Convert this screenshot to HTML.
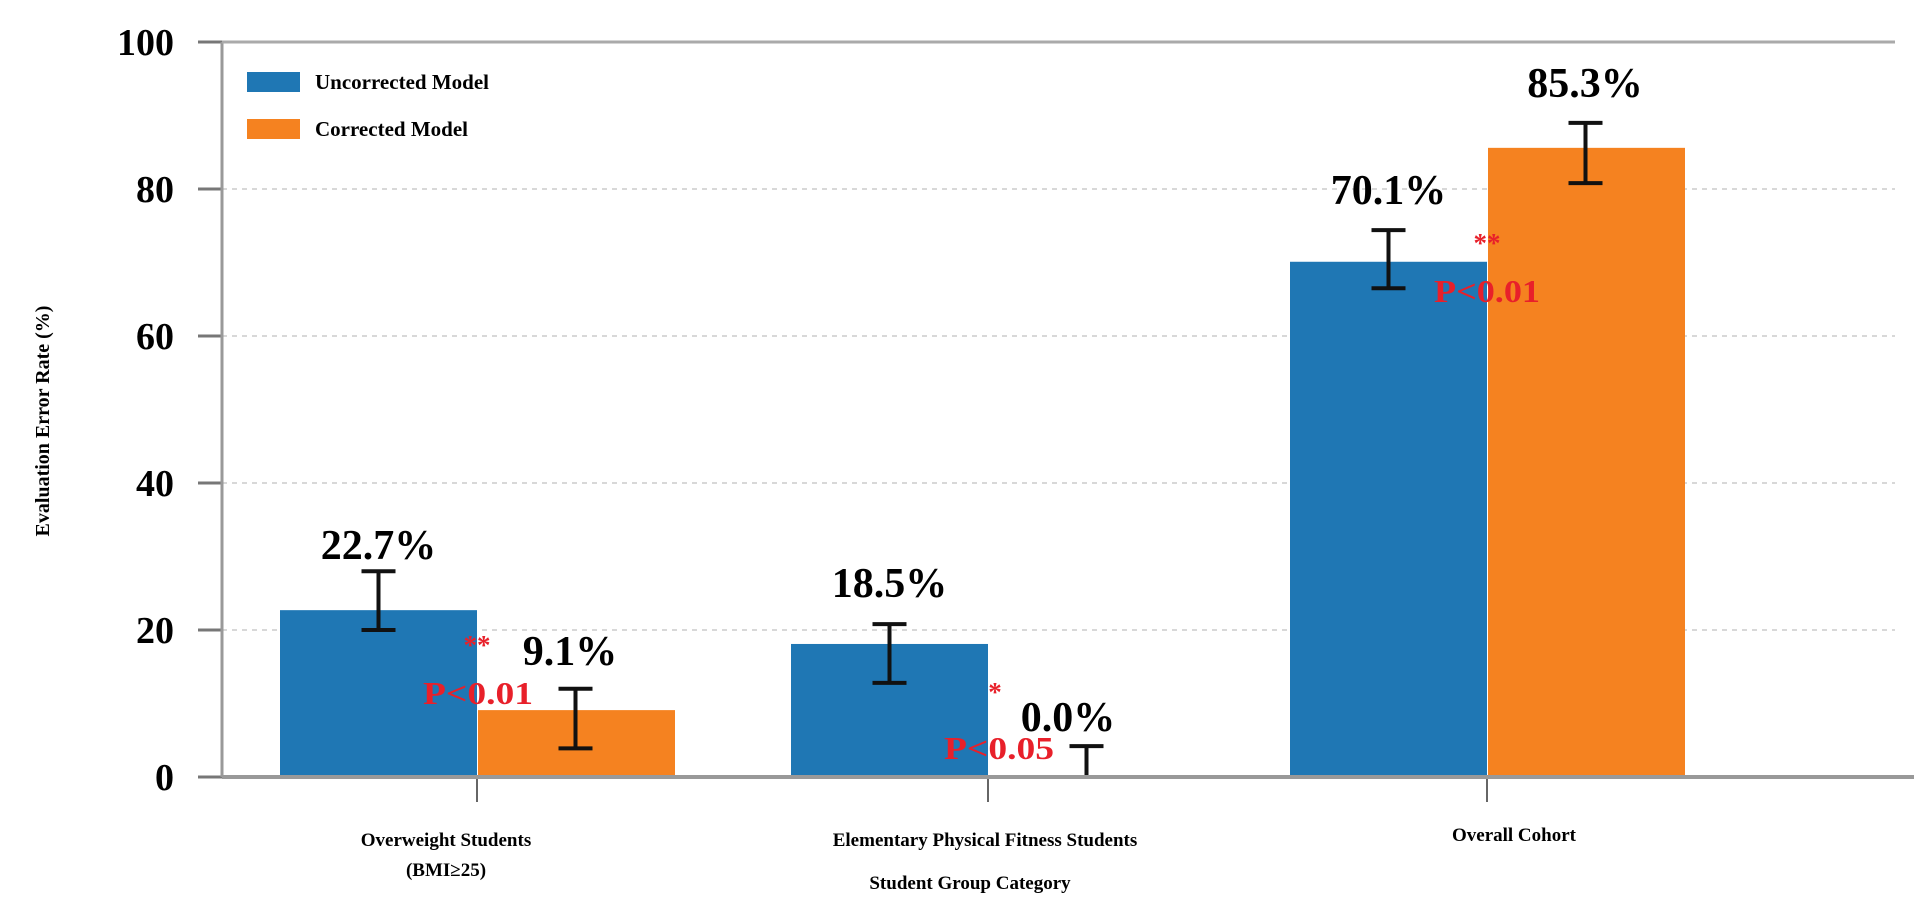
<!DOCTYPE html>
<html><head><meta charset="utf-8"><style>
html,body{margin:0;padding:0;background:#fff;}
svg{display:block;font-family:"Liberation Serif",serif;font-weight:bold;}
</style></head><body>
<svg id="chart" width="1914" height="910" viewBox="0 0 1914 910" xmlns="http://www.w3.org/2000/svg">
<g id="grid"></g><g id="bars"></g><g id="axes"></g><g id="labels"></g>
<g>
<rect x="247" y="72" width="53" height="20" fill="#1f77b4"/>
<text x="315" y="89" font-size="21">Uncorrected Model</text>
<rect x="247" y="119" width="53" height="20" fill="#f58220"/>
<text x="315" y="136" font-size="21">Corrected Model</text>
</g>
<text transform="translate(49,421) rotate(-90)" text-anchor="middle" font-size="20">Evaluation Error Rate (%)</text>
<text x="970" y="889" text-anchor="middle" font-size="19">Student Group Category</text>
</svg>
<script>
const categories = ["Overweight Students|(BMI≥25)", "Elementary Physical Fitness Students", "Overall Cohort"];
const uncorrected = [22.7, 18.1, 70.1];
const corrected = [9.1, 0.0, 85.6];
const uncLabels = ["22.7%", "18.5%", "70.1%"];
const corLabels = ["9.1%", "0.0%", "85.3%"];
const uncErrLow = [20.0, 12.8, 66.5];
const uncErrHigh = [28.0, 20.8, 74.4];
const corErrLow = [3.9, 0.0, 80.8];
const corErrHigh = [12.0, 4.2, 89.0];
const sigStars = ["**", "*", "**"];
const sigP = ["P<0.01", "P<0.05", "P<0.01"];
const yTicks = [0, 20, 40, 60, 80, 100];

const NS = "http://www.w3.org/2000/svg";
const X0 = 222, X1 = 1895, Y0 = 777, PPU = 7.35, BW = 197;
const centers = [477, 988, 1487];
function y(v){ return Y0 - v * PPU; }
function xc(i){ return centers[i]; }
function mk(tag, attrs, parent){
  const e = document.createElementNS(NS, tag);
  for (const k in attrs) e.setAttribute(k, attrs[k]);
  parent.appendChild(e); return e;
}
const grid = document.getElementById('grid'), bars = document.getElementById('bars'),
      axes = document.getElementById('axes'), labels = document.getElementById('labels');

yTicks.forEach(t => {
  if (t > 0 && t < 100) {
    const g = mk('line', {x1:X0, x2:X1, y1:y(t), y2:y(t), stroke:'#d8d8d8', 'stroke-width':2, 'stroke-dasharray':'5,5'}, grid);
    
    
  }
  const tk = mk('line', {x1:198, x2:X0, y1:y(t), y2:y(t), stroke:'#777', 'stroke-width':3}, axes);
  
  
  const tl = mk('text', {x:174, y:y(t) + 13, 'text-anchor':'end', 'font-size':38}, axes);
  tl.textContent = t;
  
  
});
const la = mk('line', {x1:X0, x2:X0, y1:y(100), y2:Y0, stroke:'#999', 'stroke-width':3}, axes);


const ta = mk('line', {x1:X0, x2:X1, y1:y(100), y2:y(100), stroke:'#aaa', 'stroke-width':3}, axes);



function errBar(cx, lo, hi, name){
  const g = mk('g', {stroke:'#111', 'stroke-width':4}, bars);
  
  
  mk('line', {x1:cx, x2:cx, y1:y(lo), y2:y(hi)}, g);
  mk('line', {x1:cx-17, x2:cx+17, y1:y(hi), y2:y(hi)}, g);
  if (lo > 0) mk('line', {x1:cx-17, x2:cx+17, y1:y(lo), y2:y(lo)}, g);
}

// label placement offsets (layout only)
const uncDy = [-12, -27, -26];
const corDx = [93, 80, 98];
const corDy = [-24, -15, -26];

categories.forEach((c, i) => {
  const cx = xc(i);
  const b1 = mk('rect', {x:cx-BW, y:y(uncorrected[i]), width:BW, height:uncorrected[i]*PPU, fill:'#1f77b4'}, bars);
  
  
  const b2 = mk('rect', {x:cx+1, y:y(corrected[i]), width:BW, height:corrected[i]*PPU, fill:'#f58220'}, bars);
  
  
  errBar(cx - BW/2, uncErrLow[i], uncErrHigh[i], 'error-bar-uncorrected-' + i);
  errBar(cx + BW/2, corErrLow[i], corErrHigh[i], 'error-bar-corrected-' + i);

  const t1 = mk('text', {x:cx-BW/2, y:y(uncErrHigh[i]) + uncDy[i], 'text-anchor':'middle', 'font-size':42}, labels);
  t1.textContent = uncLabels[i];
  
  
  const t2 = mk('text', {x:cx + corDx[i], y:y(corErrHigh[i]) + corDy[i], 'text-anchor':'middle', 'font-size':42}, labels);
  t2.textContent = corLabels[i];
  
  

  const sy = i === 2 ? y(uncorrected[i]) - 10 : (i === 0 ? y(uncorrected[i]) + 44 : y(corErrHigh[i]) - 45);
  const s = mk('text', {x:cx + (i===1?7:0), y:sy, 'text-anchor':'middle', 'font-size':27, fill:'#e8202a'}, labels);
  s.textContent = sigStars[i];
  
  
  const p = mk('text', {x:cx, y:sy + (i===1?58:50), 'text-anchor':(i===2?'middle':'end'), 'font-size':32, fill:'#e8202a', 'textLength':(i===2?106:110), 'lengthAdjust':'spacingAndGlyphs'}, labels);
  if (i === 0) p.setAttribute('x', cx + 56);
  if (i === 1) p.setAttribute('x', cx + 66);
  p.textContent = sigP[i];
  
  

  const ct = mk('line', {x1:cx, x2:cx, y1:Y0, y2:Y0+25, stroke:'#666', 'stroke-width':2}, axes);
  
  
  const lines = c.split('|');
  const lcx = i === 0 ? cx - 31 : (i === 1 ? cx - 3 : cx + 27);
  lines.forEach((ln, k) => {
    const tl = mk('text', {x:lcx, y:(i===2?841:846) + k*30, 'text-anchor':'middle', 'font-size':19}, axes);
    tl.textContent = ln;
    
    
  });
});
const ba = mk('line', {x1:X0, x2:1914, y1:Y0, y2:Y0, stroke:'#999', 'stroke-width':4}, axes);


</script>
</body></html>
